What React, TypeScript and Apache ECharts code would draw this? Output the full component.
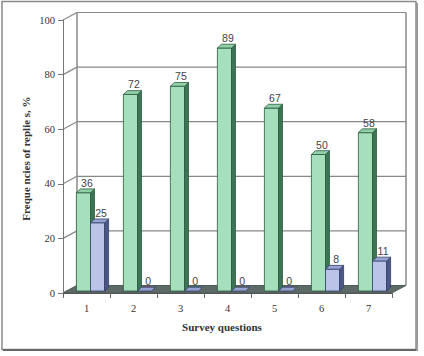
import React, { useEffect, useRef } from 'react';
import * as echarts from 'echarts';

const categories = ['1', '2', '3', '4', '5', '6', '7'];
const seriesGreen = [36, 72, 75, 89, 67, 50, 58];
const seriesBlue = [25, 0, 0, 0, 0, 8, 11];
const yTicks = [0, 20, 40, 60, 80, 100];
const xTitle = 'Survey questions';
const yTitle = 'Freque ncies of replie s, %';

const WALL_DX = 14;
const WALL_DY = -7.5;
const BAR_SHIFT_X = 4;
const BAR_SHIFT_Y = -2;
const BAR_DX = 4;
const BAR_DY = -3.8;
const BAR_FRAC = 0.3;

const SERIF = '"Liberation Serif", "DejaVu Serif", serif';
const SANS = '"Liberation Sans", Arial, sans-serif';

const palettes = [
  { front: '#a6dfbb', side: '#3b7555', top: '#8fd0a7', stroke: '#2c5a40' },
  { front: '#bac4e8', side: '#4b5787', top: '#97a3d2', stroke: '#36406a' },
];

function barRender(idx: number) {
  const pal = palettes[idx];
  return (params: any, api: any) => {
    const i = api.value(0);
    const v = api.value(1);
    const base = api.coord([i, 0]);
    const top = api.coord([i, v]);
    const bw = api.size([1, 0])[0];
    const w = bw * BAR_FRAC;
    const x0 = base[0] + (idx === 0 ? -w : 0) + BAR_SHIFT_X;
    const yb = base[1] + BAR_SHIFT_Y;
    const yt = top[1] + BAR_SHIFT_Y;
    const children: any[] = [];
    if (yb - yt > 0.5) {
      children.push({
        type: 'rect',
        shape: { x: x0, y: yt, width: w, height: yb - yt },
        style: { fill: pal.front, stroke: pal.stroke, lineWidth: 0.8 },
      });
      children.push({
        type: 'polygon',
        shape: { points: [[x0 + w, yb], [x0 + w + BAR_DX, yb + BAR_DY], [x0 + w + BAR_DX, yt + BAR_DY], [x0 + w, yt]] },
        style: { fill: pal.side, stroke: pal.stroke, lineWidth: 0.8 },
      });
    }
    children.push({
      type: 'polygon',
      shape: { points: [[x0, yt], [x0 + BAR_DX, yt + BAR_DY], [x0 + w + BAR_DX, yt + BAR_DY], [x0 + w, yt]] },
      style: { fill: pal.top, stroke: pal.stroke, lineWidth: 0.8 },
    });
    children.push({
      type: 'text',
      x: x0 + w / 2 + 3.5,
      y: yt - 10,
      style: {
        text: String(v),
        align: 'center',
        verticalAlign: 'middle',
        textAlign: 'center',
        textVerticalAlign: 'middle',
        fill: '#444',
        font: '10.5px ' + SANS,
      },
    });
    return { type: 'group', children };
  };
}

export default function App() {
  const ref = useRef<HTMLDivElement>(null);
  useEffect(() => {
    if (!ref.current) return;
    const chart = echarts.init(ref.current, undefined, { renderer: 'svg' });
    const option: any = {
      animation: false,
      backgroundColor: '#ffffff',
      grid: { left: 63, top: 20, width: 329, height: 273, containLabel: false },
      xAxis: {
        type: 'category',
        data: categories,
        z: 10,
        axisLine: { show: true, lineStyle: { color: '#555', width: 1 } },
        axisTick: { show: true, alignWithLabel: false, interval: 0, length: 5, lineStyle: { color: '#666' } },
        axisLabel: { margin: 10, fontFamily: SERIF, fontSize: 10.5, color: '#333' },
        splitLine: { show: false },
      },
      yAxis: {
        type: 'value',
        min: 0,
        max: 100,
        interval: 20,
        z: 10,
        axisLine: { show: true, lineStyle: { color: '#777', width: 1 } },
        axisTick: { show: true, length: 5, lineStyle: { color: '#777' } },
        axisLabel: { margin: 8, fontFamily: SERIF, fontSize: 10.5, color: '#333' },
        splitLine: { show: false },
      },
      graphic: [
        {
          type: 'rect',
          shape: { x: 2, y: 1.5, width: 414, height: 348 },
          style: { fill: 'none', stroke: '#8a8a8a', lineWidth: 1.5 },
          z: -1,
        },
        {
          type: 'line',
          shape: { x1: 3, y1: 350, x2: 417, y2: 350 },
          style: { stroke: '#666', lineWidth: 2 },
        },
        {
          type: 'line',
          shape: { x1: 417, y1: 3, x2: 417, y2: 351 },
          style: { stroke: '#999', lineWidth: 2 },
        },
        {
          type: 'text',
          x: 222,
          y: 327,
          style: {
            text: xTitle,
            align: 'center',
            verticalAlign: 'middle',
            textAlign: 'center',
            textVerticalAlign: 'middle',
            fill: '#333',
            font: 'bold 11px ' + SERIF,
          },
        },
        {
          type: 'text',
          x: 26,
          y: 158.5,
          rotation: Math.PI / 2,
          style: {
            text: yTitle,
            align: 'center',
            verticalAlign: 'middle',
            textAlign: 'center',
            textVerticalAlign: 'middle',
            fill: '#333',
            font: 'bold 11px ' + SERIF,
          },
        },
      ],
      series: [
        {
          type: 'custom',
          name: 'walls',
          z: 1,
          silent: true,
          data: yTicks.map((v) => [0, v]),
          renderItem: (params: any, api: any) => {
            const cs = params.coordSys;
            const y = api.coord([0, api.value(1)])[1];
            return {
              type: 'group',
              children: [
                {
                  type: 'line',
                  shape: { x1: cs.x, y1: y, x2: cs.x + WALL_DX, y2: y + WALL_DY },
                  style: { stroke: '#888', lineWidth: 1.2 },
                },
                {
                  type: 'line',
                  shape: { x1: cs.x + WALL_DX, y1: y + WALL_DY, x2: cs.x + cs.width + WALL_DX, y2: y + WALL_DY },
                  style: { stroke: '#888', lineWidth: 1.2 },
                },
              ],
            };
          },
        },
        {
          type: 'custom',
          name: 'floor',
          z: 2,
          silent: true,
          data: [[0, 0]],
          renderItem: (params: any, api: any) => {
            const cs = params.coordSys;
            const yb = api.coord([0, 0])[1];
            const xl = cs.x;
            const xr = cs.x + cs.width;
            return {
              type: 'group',
              children: [
                {
                  type: 'line',
                  shape: { x1: xl + WALL_DX, y1: cs.y + WALL_DY, x2: xl + WALL_DX, y2: yb + WALL_DY },
                  style: { stroke: '#888', lineWidth: 1.5 },
                },
                {
                  type: 'line',
                  shape: { x1: xr + WALL_DX, y1: cs.y + WALL_DY, x2: xr + WALL_DX, y2: yb + WALL_DY },
                  style: { stroke: '#888', lineWidth: 1.5 },
                },
                {
                  type: 'polygon',
                  shape: { points: [[xl, yb], [xr, yb], [xr + WALL_DX, yb + WALL_DY], [xl + WALL_DX, yb + WALL_DY]] },
                  style: { fill: '#5e6a68', stroke: '#4a5553', lineWidth: 0.8 },
                },
              ],
            };
          },
        },
        {
          type: 'custom',
          name: 'A',
          z: 3,
          data: seriesGreen.map((v, i) => [i, v]),
          renderItem: barRender(0),
        },
        {
          type: 'custom',
          name: 'B',
          z: 3,
          data: seriesBlue.map((v, i) => [i, v]),
          renderItem: barRender(1),
        },
      ],
    };
    chart.setOption(option);
    return () => chart.dispose();
  }, []);
  return (
    <div
      ref={ref}
      style={{ position: 'fixed', left: 0, top: 0, width: 424, height: 356, background: '#fff' }}
    />
  );
}
